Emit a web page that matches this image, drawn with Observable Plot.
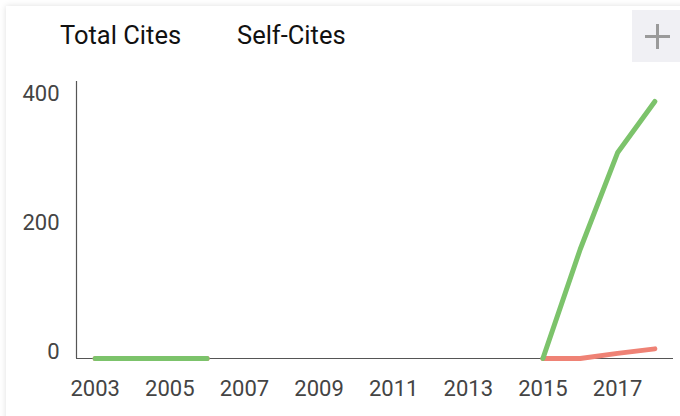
<!DOCTYPE html>
<html>
<head>
<meta charset="utf-8">
<script src="https://cdn.jsdelivr.net/npm/d3@7"></script>
<script src="https://cdn.jsdelivr.net/npm/@observablehq/plot@0.6"></script>
<style>
  html, body { margin: 0; padding: 0; background: #fff; width: 680px; height: 416px; overflow: hidden; }
  #card { position: absolute; left: 6px; top: 6px; width: 700px; height: 440px; background: #fff;
          box-shadow: 0 0 6px rgba(0,0,0,0.13); }
  #chart { position: absolute; left: 0; top: 0; }
  .legend { position: absolute; top: 20px; font-family: Roboto, sans-serif; font-size: 25.5px; color: #111; line-height: 30px; }
  #plus { position: absolute; left: 632px; top: 10px; width: 48px; height: 52px; background: #f0f0f4; }
  #plus:before { content: ""; position: absolute; left: 13px; top: 24.5px; width: 25px; height: 3px; background: #9a9a9a; }
  #plus:after { content: ""; position: absolute; left: 24px; top: 13.5px; width: 3px; height: 25px; background: #9a9a9a; }
</style>
</head>
<body>
<div id="card"></div>
<div id="chart"></div>
<div class="legend" style="left:60px">Total Cites</div>
<div class="legend" style="left:237px">Self-Cites</div>
<div id="plus"></div>
<script>
const years = [2003, 2004, 2005, 2006, 2007, 2008, 2009, 2010, 2011, 2012, 2013, 2014, 2015, 2016, 2017, 2018];
const totalCites = [0, 0, 0, 0, null, null, null, null, null, null, null, null, 0, 170, 320, 400];
const selfCites  = [0, 0, 0, 0, null, null, null, null, null, null, null, null, 0, 0, 8, 15];
const xTicks = [2003, 2005, 2007, 2009, 2011, 2013, 2015, 2017];
const yTicks = [0, 200, 400];

const rows = years.map((year, i) => ({year, total: totalCites[i], self: selfCites[i]}));

const chart = Plot.plot({
  width: 680,
  height: 416,
  marginLeft: 76,
  marginRight: 7,
  marginTop: 81,
  marginBottom: 58,
  style: {fontFamily: "Roboto, sans-serif", fontSize: "22px", color: "#444", background: "transparent"},
  x: {domain: [2002.5, 2018.5]},
  y: {domain: [0, 431]},
  marks: [
    Plot.axisX({ticks: xTicks, tickFormat: d => String(d), tickSize: 0, tickPadding: 22, label: null, fill: "#444"}),
    Plot.axisY({ticks: yTicks, tickSize: 0, tickPadding: 17, dy: -7, label: null, fill: "#444"}),
    Plot.ruleY([0], {stroke: "#555", strokeWidth: 1.2}),
    Plot.ruleX([2002.5], {stroke: "#555", strokeWidth: 1.2}),
    Plot.lineY(rows, {x: "year", y: "self", stroke: "#ef8275", strokeWidth: 5, strokeLinejoin: "miter", curve: "linear"}),
    Plot.lineY(rows, {x: "year", y: "total", stroke: "#7cc36b", strokeWidth: 5, strokeLinejoin: "miter", curve: "linear"})
  ]
});
document.getElementById("chart").appendChild(chart);
</script>
</body>
</html>
